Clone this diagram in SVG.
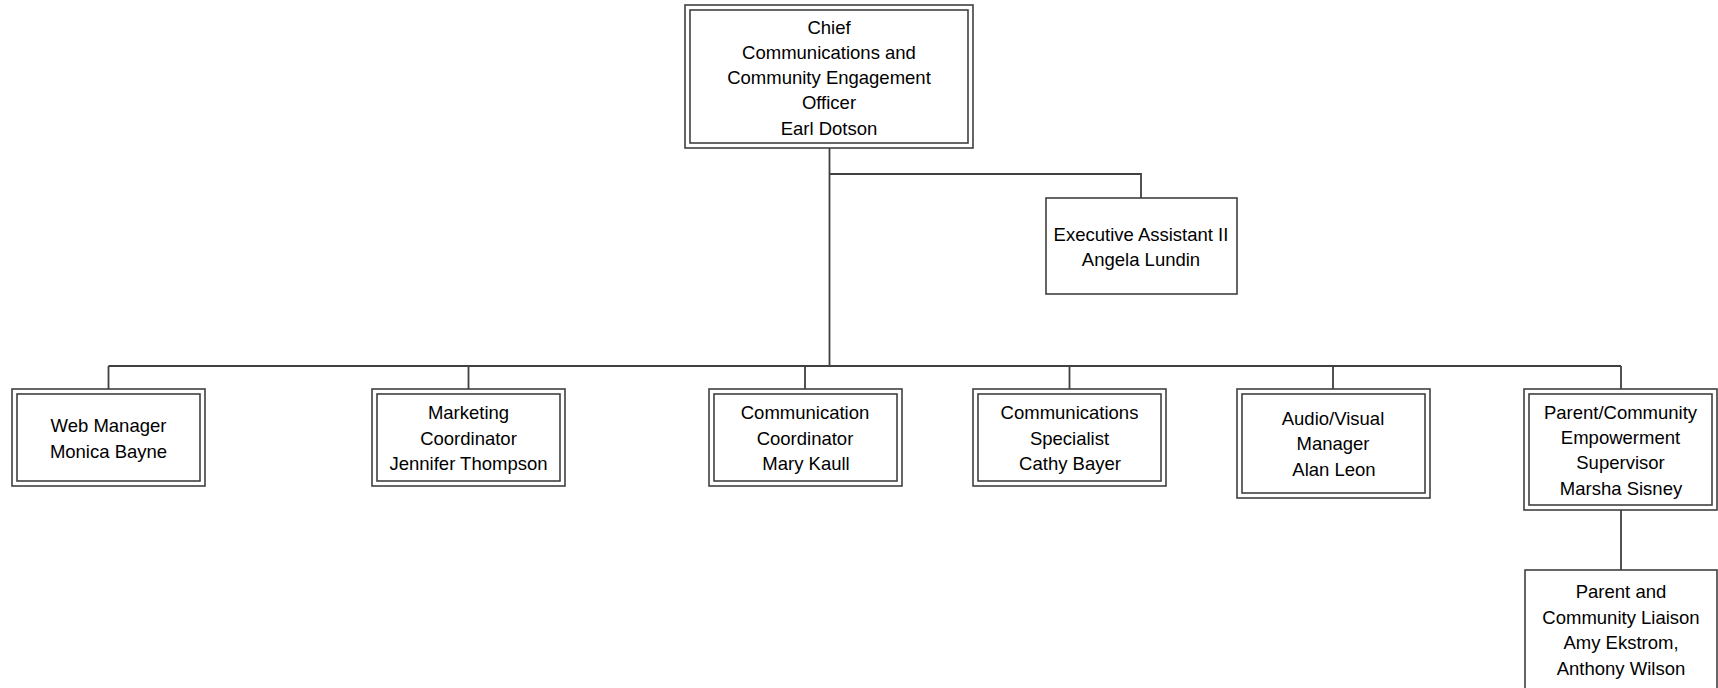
<svg xmlns="http://www.w3.org/2000/svg" width="1718" height="688" viewBox="0 0 1718 688">
<style>
.o{fill:#fff;stroke:#404040;stroke-width:1.6}
.i{fill:none;stroke:#404040;stroke-width:1.6}
.c{fill:none;stroke:#404040;stroke-width:1.8}
text{font-family:"Liberation Sans",Arial,sans-serif;font-size:18.5px;fill:#000;text-anchor:middle;dominant-baseline:central}
</style>
<rect width="1718" height="688" fill="#fff"/>
<g id="connectors">
<path class="c" d="M829.5 148V366" stroke-width="2.6"/>
<path class="c" d="M829.5 174H1141V198"/>
<path class="c" d="M108.5 366H1621"/>
<path class="c" d="M108.5 366V389M468.5 366V389M805 366V389M1069.5 366V389M1333 366V389M1621 366V389"/>
<path class="c" d="M1621 510V570"/>
</g>
<g id="chief">
<rect class="o" x="685" y="5" width="288" height="143"/>
<rect class="i" x="690" y="10" width="278" height="133"/>
<text x="829" y="27">Chief</text>
<text x="829" y="52">Communications and</text>
<text x="829" y="77">Community Engagement</text>
<text x="829" y="102">Officer</text>
<text x="829" y="128">Earl Dotson</text>
</g>
<g id="exec-assistant">
<rect class="o" x="1046" y="198" width="191" height="96"/>
<text x="1141" y="234">Executive Assistant II</text>
<text x="1141" y="259">Angela Lundin</text>
</g>
<g id="web-manager">
<rect class="o" x="12" y="389" width="193" height="97"/>
<rect class="i" x="17" y="394" width="183" height="87"/>
<text x="108.5" y="425">Web Manager</text>
<text x="108.5" y="451">Monica Bayne</text>
</g>
<g id="marketing">
<rect class="o" x="372" y="389" width="193" height="97"/>
<rect class="i" x="377" y="394" width="183" height="87"/>
<text x="468.5" y="412">Marketing</text>
<text x="468.5" y="438">Coordinator</text>
<text x="468.5" y="463">Jennifer Thompson</text>
</g>
<g id="comm-coordinator">
<rect class="o" x="709" y="389" width="193" height="97"/>
<rect class="i" x="714" y="394" width="183" height="87"/>
<text x="805" y="412">Communication</text>
<text x="805" y="438">Coordinator</text>
<text x="806" y="463">Mary Kaull</text>
</g>
<g id="comm-specialist">
<rect class="o" x="973" y="389" width="193" height="97"/>
<rect class="i" x="978" y="394" width="183" height="87"/>
<text x="1069.5" y="412">Communications</text>
<text x="1069.5" y="438">Specialist</text>
<text x="1070" y="463">Cathy Bayer</text>
</g>
<g id="av-manager">
<rect class="o" x="1237" y="389" width="193" height="109"/>
<rect class="i" x="1242" y="394" width="183" height="99"/>
<text x="1333" y="418">Audio/Visual</text>
<text x="1333" y="443">Manager</text>
<text x="1334" y="469">Alan Leon</text>
</g>
<g id="parent-supervisor">
<rect class="o" x="1524" y="389" width="193" height="121"/>
<rect class="i" x="1529" y="394" width="183" height="111"/>
<text x="1620.5" y="412">Parent/Community</text>
<text x="1620.5" y="437">Empowerment</text>
<text x="1620.5" y="462">Supervisor</text>
<text x="1621" y="488">Marsha Sisney</text>
</g>
<g id="liaison">
<rect class="o" x="1525" y="570" width="192" height="130"/>
<text x="1621" y="591">Parent and</text>
<text x="1621" y="617">Community Liaison</text>
<text x="1621" y="642">Amy Ekstrom,</text>
<text x="1621" y="668">Anthony Wilson</text>
</g>
</svg>
